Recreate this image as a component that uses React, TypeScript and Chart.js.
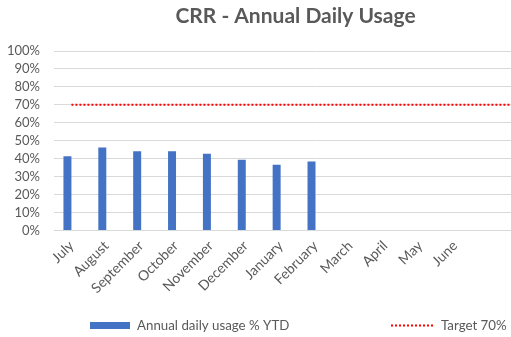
import React, { useEffect, useRef } from "react";
import { Chart, registerables } from "chart.js";

Chart.register(...registerables);

const months = ["July", "August", "September", "October", "November", "December", "January", "February", "March", "April", "May", "June"];
// the source chart's axis carries a few empty categories after June (cropped on the right)
const blankCategories = ["", "", ""];
const usageYTD = [41.4, 46.3, 44.1, 44.1, 42.7, 39.4, 36.6, 38.5];
const targetValue = 70;
const yTicks = [0, 10, 20, 30, 40, 50, 60, 70, 80, 90, 100];

const usageLabel = "Annual daily usage % YTD";
const targetLabel = "Target 70%";
const titleText = "CRR - Annual Daily Usage";

const FONT = "Lato, 'Open Sans', sans-serif";
const GREY = "#595959";
const BLUE = "#4472C4";
const RED = "#FF0000";
const GRID = "#D9D9D9";

const legendPlugin = {
  id: "excelLegend",
  afterDraw(chart: any) {
    const ctx = chart.ctx;
    const y = 325.5;
    ctx.save();
    ctx.fillStyle = BLUE;
    ctx.fillRect(90, 322, 40, 7);
    ctx.font = `13.3px ${FONT}`;
    ctx.fillStyle = GREY;
    ctx.textBaseline = "middle";
    ctx.textAlign = "left";
    ctx.fillText(chart.data.datasets[0].label, 137, y);
    ctx.strokeStyle = RED;
    ctx.lineWidth = 2;
    ctx.setLineDash([2, 2]);
    ctx.beginPath();
    ctx.moveTo(391, y);
    ctx.lineTo(434, y);
    ctx.stroke();
    ctx.setLineDash([]);
    ctx.fillText(chart.data.datasets[2].label, 441, y);
    ctx.restore();
  },
};

export default function App() {
  const ref = useRef<HTMLCanvasElement | null>(null);

  useEffect(() => {
    if (!ref.current) return;
    const labels = [...months, ...blankCategories];
    const chart = new Chart(ref.current, {
      type: "bar",
      data: {
        labels,
        datasets: [
          {
            type: "bar",
            label: usageLabel,
            data: usageYTD,
            backgroundColor: BLUE,
            borderWidth: 0,
            order: 2,
          },
          {
            type: "bar",
            label: "",
            data: labels.map(() => 0),
            backgroundColor: "rgba(0,0,0,0)",
            borderWidth: 0,
            order: 3,
          },
          {
            type: "line",
            label: targetLabel,
            data: labels.map(() => targetValue),
            borderColor: RED,
            borderWidth: 2,
            borderDash: [2, 2],
            pointRadius: 0,
            fill: false,
            order: 1,
          },
        ],
      } as any,
      options: {
        responsive: false,
        animation: false,
        devicePixelRatio: 1,
        datasets: {
          bar: { categoryPercentage: 0.458, barPercentage: 1 },
        } as any,
        layout: { padding: { left: 14, right: 14, top: 0, bottom: 0 } },
        plugins: {
          legend: { display: false },
          tooltip: { enabled: false },
          title: {
            display: true,
            text: titleText,
            color: GREY,
            font: { family: FONT, size: 21, weight: "bold" },
            padding: { top: 4, bottom: 21.8 },
          },
        },
        scales: {
          x: {
            grid: { display: false, drawTicks: false },
            border: { display: true, color: GRID, width: 1 },
            ticks: {
              color: GREY,
              font: { family: FONT, size: 14 },
              minRotation: 45,
              maxRotation: 45,
              autoSkip: false,
              padding: 7,
            },
            afterFit: (scale: any) => {
              scale.paddingLeft = 0;
              scale.paddingRight = 0;
              scale.height = 106.5;
            },
          },
          y: {
            min: 0,
            max: 100,
            grid: { color: GRID, drawTicks: false, lineWidth: 1 },
            border: { display: false },
            afterBuildTicks: (scale: any) => {
              scale.ticks = yTicks.map((v) => ({ value: v }));
            },
            afterFit: (scale: any) => {
              scale.width = 40;
              // let the tick labels run into the left margin without being clipped
              scale._computeLabelArea = () => undefined;
            },
            ticks: {
              color: GREY,
              font: { family: FONT, size: 13 },
              padding: 14,
              autoSkip: false,
              callback: (v: any) => `${v}%`,
            },
          },
        },
      },
      plugins: [legendPlugin],
    });
    return () => chart.destroy();
  }, []);

  return (
    <div style={{ position: "fixed", left: 0, top: 0, width: 511, height: 337, overflow: "hidden", background: "#fff" }}>
      <canvas ref={ref} width={591} height={337} style={{ display: "block" }} />
    </div>
  );
}
